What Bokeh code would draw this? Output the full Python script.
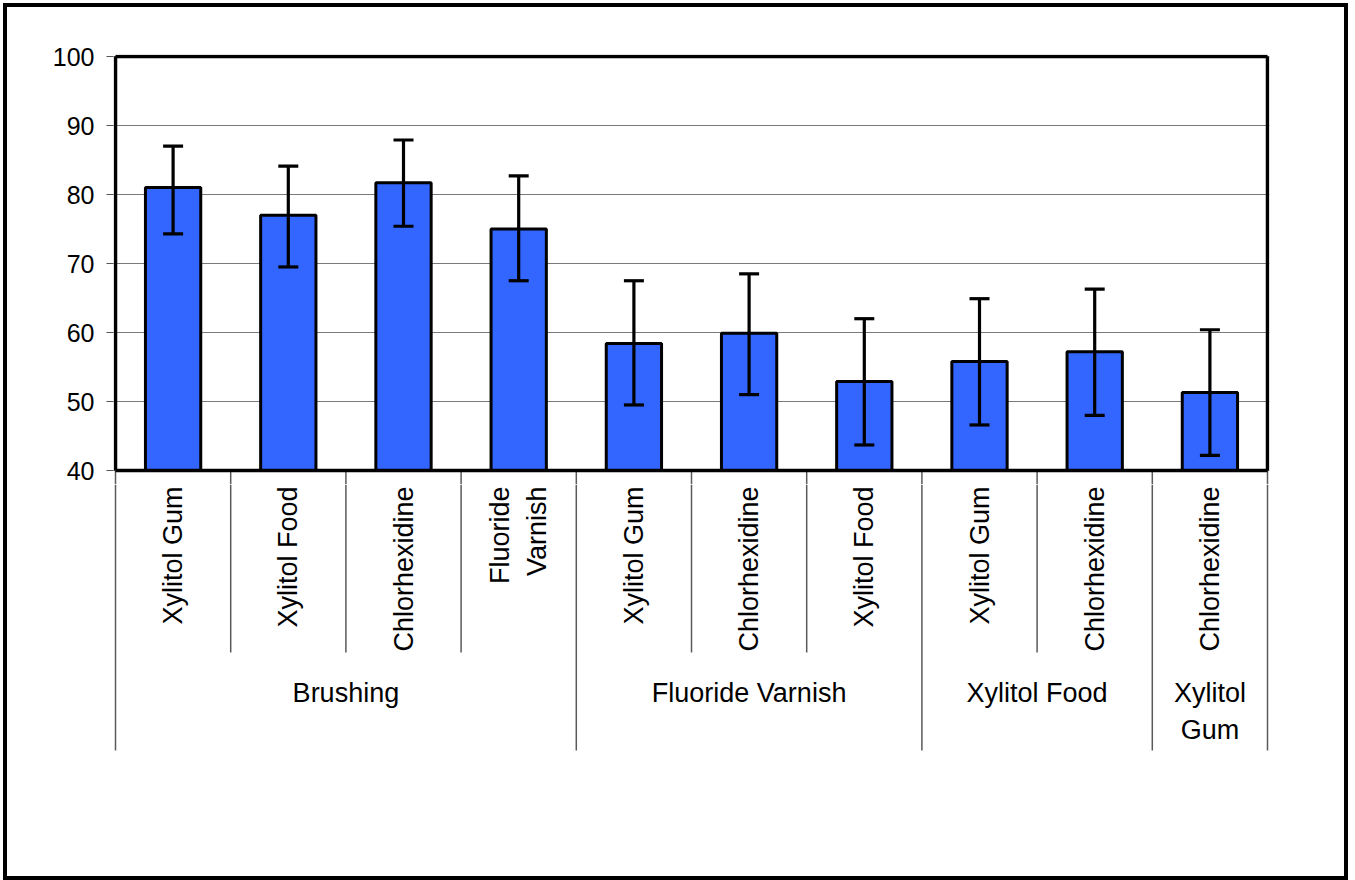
import math
from bokeh.plotting import figure
from bokeh.models import Range1d, ColumnDataSource, Whisker, TeeHead, FixedTicker
from bokeh.layouts import column
from bokeh.embed import file_html
from bokeh.resources import INLINE
from bokeh.core.properties import value

# ---------------- data ----------------
group_labels = ["Brushing", "Fluoride Varnish", "Xylitol Food", "Xylitol\nGum"]
group_sizes = [4, 3, 2, 1]
categories = ["Xylitol Gum", "Xylitol Food", "Chlorhexidine", "Fluoride\nVarnish",
              "Xylitol Gum", "Chlorhexidine", "Xylitol Food",
              "Xylitol Gum", "Chlorhexidine",
              "Chlorhexidine"]
means = [81.0, 77.0, 81.7, 75.0, 58.4, 59.9, 52.9, 55.8, 57.2, 51.3]
upper = [87.0, 84.1, 87.9, 82.7, 67.5, 68.5, 62.0, 64.9, 66.3, 60.4]
lower = [74.3, 69.5, 75.4, 67.5, 49.5, 51.0, 43.7, 46.6, 48.0, 42.2]
y_ticks = [40, 50, 60, 70, 80, 90, 100]

# ---------------- layout (pixels, page coordinates) ----------------
PX = 7                       # content origin inside the outer border
CW, CH = 1337, 869           # content size
BL, BR, BT, BB = 115, 1267, 56, 470   # plot box edges
PAD_X, PAD_T, PAD_B = 2, 2, 14        # frame extension around the box
n = len(categories)
ppu = (BR - BL) / n
ppy = (BB - BT) / (y_ticks[-1] - y_ticks[0])
FONT = "Liberation Sans"
GRID = "#7a7a7a"
SEP = "#5a5a5a"

ylo, yhi = y_ticks[0], y_ticks[-1]
frame_top = BT - PAD_T
frame_bot = BB + PAD_B
H1 = frame_bot - PX
H2 = CH - H1
off = PX + H1                 # page y where the lower panel begins

x_range = Range1d(-PAD_X / ppu, n + PAD_X / ppu)
xs = [i + 0.5 for i in range(n)]

bounds = [0]
for s in group_sizes:
    bounds.append(bounds[-1] + s)
inner = [i for i in range(1, n) if i not in bounds]
allb = list(range(0, n + 1))

# ---------------- main plot ----------------
p1 = figure(width=CW, height=H1, x_range=x_range,
            y_range=Range1d(ylo - PAD_B / ppy, yhi + PAD_T / ppy),
            output_backend="svg", toolbar_location=None, x_axis_location=None,
            min_border_left=BL - PAD_X - PX, min_border_right=CW - (BR + PAD_X - PX),
            min_border_top=frame_top - PX, min_border_bottom=0)
p1.background_fill_color = "white"
p1.border_fill_color = "white"
p1.outline_line_color = None
p1.xgrid.visible = False
p1.ygrid.grid_line_color = GRID
p1.ygrid.grid_line_width = 1.2
p1.ygrid.ticker = FixedTicker(ticks=y_ticks)

ax = p1.yaxis[0]
ax.ticker = FixedTicker(ticks=y_ticks)
ax.bounds = (ylo, yhi)
ax.axis_line_color = None
ax.major_tick_in = 0
ax.major_tick_out = 7
ax.major_tick_line_color = "#555555"
ax.major_tick_line_width = 1.2
ax.minor_tick_line_color = None
ax.major_label_text_font = FONT
ax.major_label_text_font_size = "25px"
ax.major_label_text_color = "black"
ax.major_label_standoff = 12

# separator stubs just below the box
p1.segment(x0=allb, x1=allb, y0=[ylo] * len(allb), y1=[ylo - PAD_B / ppy] * len(allb),
           line_color=SEP, line_width=1.5)

src = ColumnDataSource(dict(x=xs, top=means, upper=upper, lower=lower))
p1.vbar(x="x", top="top", bottom=ylo, width=0.48, source=src,
        fill_color="#3366FF", line_color="black", line_width=3)

# plot box
p1.segment(x0=[0, 0, 0, n], y0=[ylo, yhi, ylo, ylo], x1=[n, n, 0, n], y1=[ylo, yhi, yhi, yhi],
           line_color="black", line_width=3.5)

wh = Whisker(base="x", upper="upper", lower="lower", source=src,
             line_color="black", line_width=3.2, level="overlay",
             upper_head=TeeHead(size=20, line_width=3.2, line_color="black"),
             lower_head=TeeHead(size=20, line_width=3.2, line_color="black"))
p1.add_layout(wh)

# ---------------- category labels panel ----------------
p2 = figure(width=CW, height=H2, x_range=x_range, y_range=Range1d(H2, 0),
            output_backend="svg", toolbar_location=None,
            x_axis_location=None, y_axis_location=None,
            min_border_left=BL - PAD_X - PX, min_border_right=CW - (BR + PAD_X - PX),
            min_border_top=0, min_border_bottom=0)
p2.outline_line_color = None
p2.grid.visible = False
p2.background_fill_color = "white"
p2.border_fill_color = "white"

p2.segment(x0=inner, x1=inner, y0=[0] * len(inner), y1=[652 - off] * len(inner),
           line_color=SEP, line_width=1.5)
p2.segment(x0=bounds, x1=bounds, y0=[0] * len(bounds), y1=[750 - off] * len(bounds),
           line_color=SEP, line_width=1.5)

p2.text(x=xs, y=[486 - off] * n, text=categories, angle=math.pi / 2,
        text_align="right", text_baseline="middle",
        text_font=value(FONT), text_font_size="27px", text_color="black",
        text_line_height=1.25)

gcent = [(bounds[i] + bounds[i + 1]) / 2 for i in range(len(group_sizes))]
p2.text(x=gcent, y=[677 - off] * len(gcent), text=group_labels,
        text_align="center", text_baseline="top",
        text_font=value(FONT), text_font_size="27px", text_color="black",
        text_line_height=1.24)

layout = column(p1, p2, spacing=0,
                styles={"margin": "3px", "border": "4px solid black", "background": "white"})

open("out.html", "w").write(file_html(layout, INLINE))
